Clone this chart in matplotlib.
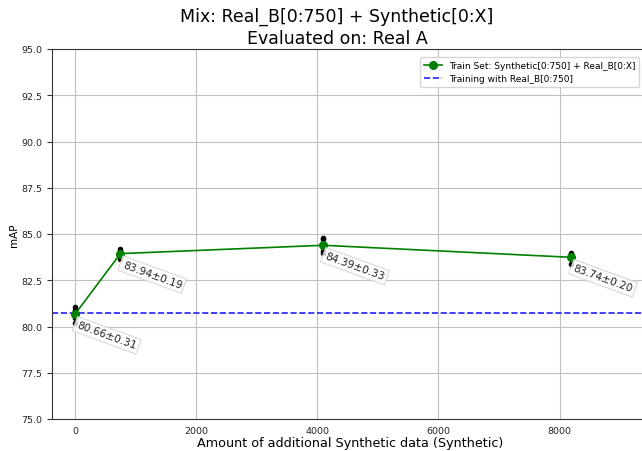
import numpy as np
import matplotlib
matplotlib.use("Agg")
import matplotlib.pyplot as plt

# Amount of extra synthetic images added to the training set
extra_synthetic = [0, 750, 4096, 8192]

# mAP of each repeated run, per training-set size
runs_map = [
    [81.05, 80.90, 80.70, 80.45, 80.20],
    [84.20, 84.10, 83.95, 83.80, 83.65],
    [84.80, 84.75, 84.30, 84.10, 84.00],
    [83.95, 83.90, 83.80, 83.65, 83.40],
]

# Summary statistics shown next to each point
mean_map = [80.66, 83.94, 84.39, 83.74]
std_map = [0.31, 0.19, 0.33, 0.20]

# Reference run trained only on Real_B[0:750]
baseline_map = 80.75

fig = plt.figure(figsize=(6.42, 4.52), dpi=100)
ax = fig.add_axes([52 / 642, 32 / 452, 596 / 642, 370 / 452])

ax.grid(True, color="#c0c0c0", linewidth=0.8, zorder=0)
ax.set_axisbelow(True)

for x, vals in zip(extra_synthetic, runs_map):
    ax.plot([x] * len(vals), vals, "o", color="black", markersize=3, zorder=3)

ax.plot(extra_synthetic, mean_map, "-o", color="green", linewidth=1.2,
        markersize=5.5, label="Train Set: Synthetic[0:750] + Real_B[0:X]", zorder=4)
ax.axhline(baseline_map, color="#2020ff", linestyle="--", linewidth=1.2,
           label="Training with Real_B[0:750]", zorder=2)

for x, m, s in zip(extra_synthetic, mean_map, std_map):
    ax.annotate(f"{m:.2f}±{s:.2f}", xy=(x, m), xytext=(3, -4),
                textcoords="offset points", ha="left", va="top",
                rotation=-20, rotation_mode="anchor", fontsize=7.6,
                color="#222222",
                bbox=dict(boxstyle="square,pad=0.25", facecolor="white",
                          edgecolor="#d0d0d0", alpha=0.8, linewidth=0.8),
                zorder=5)

ax.set_xlim(-379, 9458)
ax.set_ylim(75, 95)
ax.set_yticks(np.arange(75, 95.1, 2.5))
ax.set_xticks([0, 2000, 4000, 6000, 8000])
ax.tick_params(axis="both", labelsize=6.8, colors="#333333", labelcolor="#222222")
ax.tick_params(axis="x", length=0, pad=5)
for sp in ax.spines.values():
    sp.set_color("#333333")

ax.set_xlabel("Amount of additional Synthetic data (Synthetic)", fontsize=9.2,
              labelpad=1)
ax.set_ylabel("mAP", fontsize=7.5, labelpad=2)

ax.legend(loc="upper right", fontsize=6.5, framealpha=0.8, edgecolor="#cccccc",
          bbox_to_anchor=(0.993, 0.99))

fig.text(337 / 642, 1 - 8 / 452,
         "Mix: Real_B[0:750] + Synthetic[0:X]\nEvaluated on: Real A",
         ha="center", va="top", fontsize=12.5, linespacing=1.25)

fig.savefig("out.png", dpi=100)
